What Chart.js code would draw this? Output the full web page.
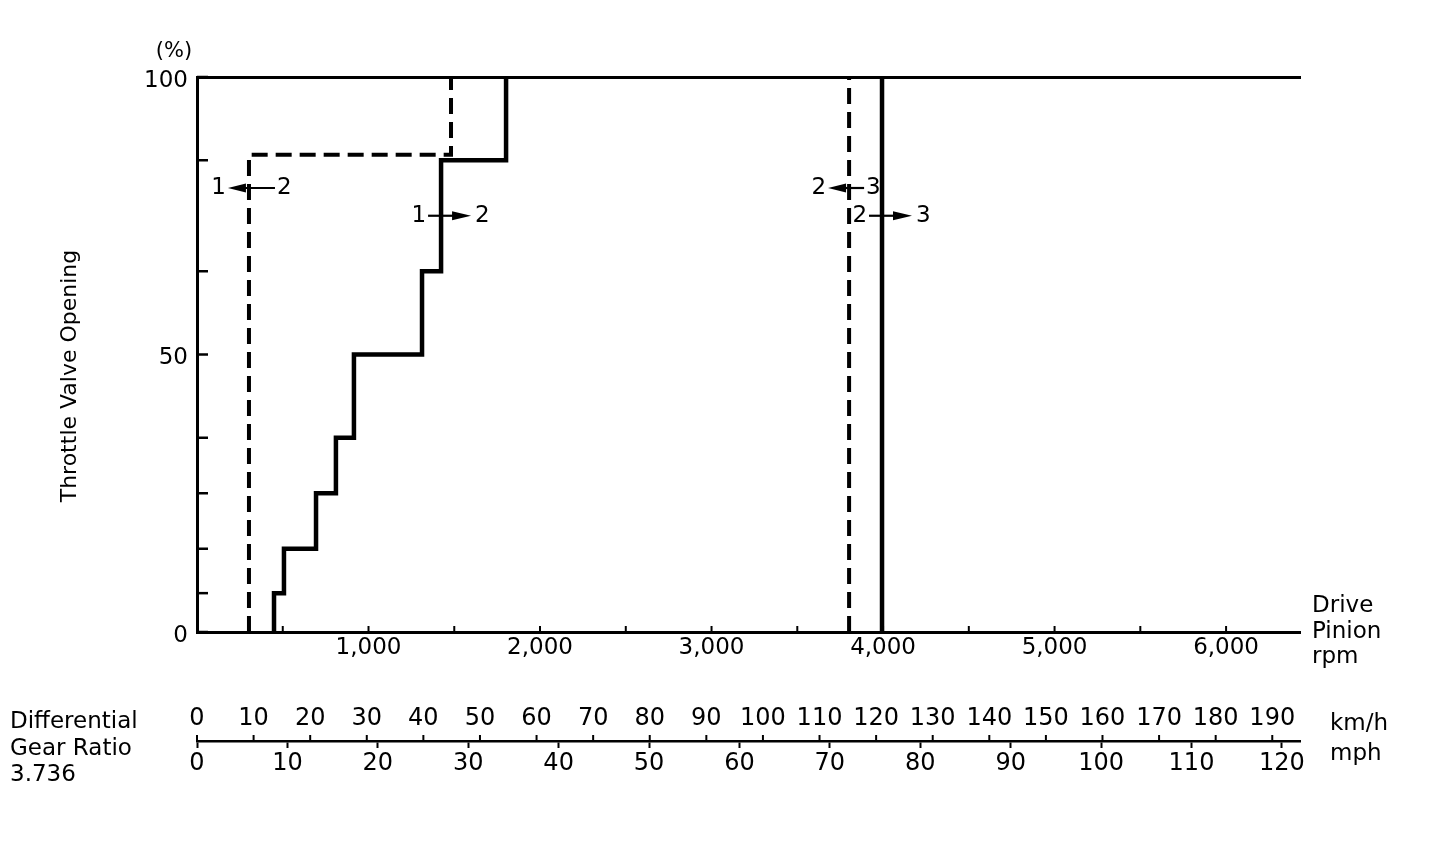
<!DOCTYPE html>
<html>
<head>
<meta charset="utf-8">
<title>Shift pattern</title>
<script src="https://cdn.jsdelivr.net/npm/chart.js@4.4.1/dist/chart.umd.min.js"></script>
<style>
  html, body { margin: 0; padding: 0; background: #fff; }
  #shift-canvas { display: block; }
</style>
</head>
<body>
<canvas id="shift-canvas" width="1440" height="852"></canvas>
<script>
// corners of each shift line: drive pinion rpm / throttle valve opening (%)
const upshift12Rpm = [449, 449, 507, 507, 694, 694, 810, 810, 915, 915, 1312, 1312, 1423, 1423, 1802, 1802];
const upshift12Pct = [0, 7, 7, 15, 15, 25, 25, 35, 35, 50, 50, 65, 65, 85, 85, 100];
const downshift21Rpm = [303, 303, 1481, 1481];
const downshift21Pct = [0, 86, 86, 100];
const downshift32Rpm = [3802, 3802];
const downshift32Pct = [0, 100];
const upshift23Rpm = [3994, 3994];
const upshift23Pct = [0, 100];

// axes
const throttleTicks = [0, 7, 15, 25, 35, 50, 65, 85, 100];
const throttleLabels = [0, 50, 100];
const rpmTicks = [500, 1000, 1500, 2000, 2500, 3000, 3500, 4000, 4500, 5000, 5500, 6000];
const rpmLabels = [1000, 2000, 3000, 4000, 5000, 6000];
const kmhTicks = [0, 10, 20, 30, 40, 50, 60, 70, 80, 90, 100, 110, 120, 130, 140, 150, 160, 170, 180, 190];
const mphTicks = [0, 10, 20, 30, 40, 50, 60, 70, 80, 90, 100, 110, 120];
const rpmMax = 6431;
const kmhMax = 194.9;
const mphMax = 122;

const shiftLabels = [
  { from: "1", to: "2", rpm: 303, pct: 80, dir: "left" },
  { from: "1", to: "2", rpm: 1423, pct: 75, dir: "right" },
  { from: "2", to: "3", rpm: 3802, pct: 80, dir: "left" },
  { from: "2", to: "3", rpm: 3994, pct: 75, dir: "right" },
];
// room on the right of a left arrow before the next line gets in the way
const leftArrowTail = [26, 0, 15, 0];

const FONT = '"DejaVu Sans", sans-serif';
const BLACK = "#000";

function toPoints(xs, ys) {
  return xs.map((x, i) => ({ x, y: ys[i] }));
}

function formatRpm(value) {
  return String(Math.round(Number(value))).replace(/\B(?=(\d{3})+(?!\d))/g, ",");
}

// chart.js re-spaces stepSize ticks when min/max are fixed, so set them by hand
function fixedTicks(values) {
  return (scale) => {
    scale.ticks = values.map((value) => ({ value }));
  };
}

function drawText(ctx, str, x, y, size, align = "left") {
  ctx.font = `${size}px ${FONT}`;
  ctx.textAlign = align;
  ctx.textBaseline = "middle";
  ctx.fillText(str, x, y);
}

function drawLine(ctx, x1, y1, x2, y2) {
  ctx.beginPath();
  ctx.moveTo(x1, y1);
  ctx.lineTo(x2, y2);
  ctx.stroke();
}

function drawArrow(ctx, item, tail, xScale, yScale) {
  const cx = xScale.getPixelForValue(item.rpm);
  const cy = yScale.getPixelForValue(item.pct);
  ctx.lineWidth = 2.2;
  if (item.dir === "left") {
    drawText(ctx, item.from, cx - 23, cy, 23, "right");
    drawText(ctx, item.to, cx + tail + 2, cy, 23, "left");
    drawLine(ctx, cx - 6, cy, cx + tail, cy);
    ctx.beginPath();
    ctx.moveTo(cx - 21, cy);
    ctx.lineTo(cx - 3, cy - 4.5);
    ctx.lineTo(cx - 3, cy + 4.5);
  } else {
    drawText(ctx, item.from, cx - 15, cy, 23, "right");
    drawText(ctx, item.to, cx + 34, cy, 23, "left");
    drawLine(ctx, cx - 13, cy, cx + 14, cy);
    ctx.beginPath();
    ctx.moveTo(cx + 30, cy);
    ctx.lineTo(cx + 11, cy - 4.5);
    ctx.lineTo(cx + 11, cy + 4.5);
  }
  ctx.closePath();
  ctx.fill();
}

const annotationsPlugin = {
  id: "shiftAnnotations",
  afterDraw(chart) {
    const { ctx, scales, chartArea } = chart;
    ctx.save();
    ctx.fillStyle = BLACK;
    ctx.strokeStyle = BLACK;

    // tick marks pointing into the plot
    ctx.lineWidth = 2.5;
    scales.y.ticks.forEach((tick) => {
      const py = scales.y.getPixelForValue(tick.value);
      drawLine(ctx, chartArea.left, py, chartArea.left + 11, py);
    });
    ctx.lineWidth = 2;
    scales.x.ticks.forEach((tick) => {
      const px = scales.x.getPixelForValue(tick.value);
      drawLine(ctx, px, chartArea.bottom, px, chartArea.bottom - 6);
    });

    // km/h ticks stand up from the mph line
    scales.kmh.ticks.forEach((tick) => {
      const px = scales.kmh.getPixelForValue(tick.value);
      drawLine(ctx, px, scales.mph.top, px, scales.mph.top - 6);
    });

    shiftLabels.forEach((item, i) => drawArrow(ctx, item, leftArrowTail[i], scales.x, scales.y));

    drawText(ctx, "(%)", 174, 52, 21, "center");
    ctx.save();
    ctx.translate(70, 376);
    ctx.rotate(-Math.PI / 2);
    drawText(ctx, "Throttle Valve Opening", 0, 0, 22, "center");
    ctx.restore();

    drawText(ctx, "Drive", 1312, 606, 23);
    drawText(ctx, "Pinion", 1312, 632, 23);
    drawText(ctx, "rpm", 1312, 657, 23);

    drawText(ctx, "Differential", 10, 722, 23);
    drawText(ctx, "Gear Ratio", 10, 749, 23);
    drawText(ctx, "3.736", 10, 775, 23);

    drawText(ctx, "km/h", 1330, 724, 23);
    drawText(ctx, "mph", 1330, 754, 23);
    ctx.restore();
  },
};

const solidLine = { borderColor: BLACK, borderWidth: 4.5, pointRadius: 0, showLine: true, fill: false, borderJoinStyle: "miter" };
const dashedLine = { ...solidLine, borderWidth: 4, borderDash: [16, 8] };
const noGrid = { display: false, drawTicks: false };

new Chart(document.querySelector("#shift-canvas"), {
  type: "scatter",
  data: {
    datasets: [
      { ...solidLine, label: "1-2 up", data: toPoints(upshift12Rpm, upshift12Pct) },
      { ...dashedLine, label: "2-1 down", data: toPoints(downshift21Rpm, downshift21Pct) },
      { ...dashedLine, label: "3-2 down", data: toPoints(downshift32Rpm, downshift32Pct) },
      { ...solidLine, label: "2-3 up", data: toPoints(upshift23Rpm, upshift23Pct) },
    ],
  },
  options: {
    responsive: false,
    devicePixelRatio: 1,
    animation: false,
    layout: { padding: { left: 0, right: 140, top: 77, bottom: 62 } },
    plugins: { legend: { display: false }, tooltip: { enabled: false } },
    scales: {
      x: {
        type: "linear",
        position: "bottom",
        weight: 0,
        min: 0,
        max: rpmMax,
        afterFit: (scale) => { scale.height = 68; },
        afterBuildTicks: fixedTicks(rpmTicks),
        ticks: {
          autoSkip: false,
          maxRotation: 0,
          padding: 2,
          color: BLACK,
          font: { family: FONT, size: 23 },
          callback: (value) => (rpmLabels.includes(value) ? formatRpm(value) : ""),
        },
        grid: noGrid,
        border: { color: BLACK, width: 3 },
      },
      xTop: {
        type: "linear",
        position: "top",
        min: 0,
        max: 1,
        afterFit: (scale) => { scale.height = 0; },
        ticks: { display: false },
        grid: noGrid,
        border: { color: BLACK, width: 3 },
      },
      kmh: {
        type: "linear",
        position: "bottom",
        weight: 1,
        min: 0,
        max: kmhMax,
        afterFit: (scale) => { scale.height = 41; },
        afterBuildTicks: fixedTicks(kmhTicks),
        ticks: {
          autoSkip: false,
          maxRotation: 0,
          padding: 4,
          color: BLACK,
          font: { family: FONT, size: 24 },
          callback: (value) => String(value),
        },
        grid: noGrid,
        border: { display: false },
      },
      mph: {
        type: "linear",
        position: "bottom",
        weight: 2,
        min: 0,
        max: mphMax,
        afterFit: (scale) => { scale.height = 49; },
        afterBuildTicks: fixedTicks(mphTicks),
        ticks: {
          autoSkip: false,
          maxRotation: 0,
          padding: 1,
          color: BLACK,
          font: { family: FONT, size: 24 },
          callback: (value) => String(value),
        },
        grid: { drawOnChartArea: false, tickLength: 7, tickWidth: 2, tickColor: BLACK },
        border: { color: BLACK, width: 2.5 },
      },
      y: {
        type: "linear",
        position: "left",
        min: 0,
        max: 100,
        afterFit: (scale) => { scale.width = 197; },
        afterBuildTicks: fixedTicks(throttleTicks),
        ticks: {
          autoSkip: false,
          padding: 9,
          labelOffset: 4,
          color: BLACK,
          font: { family: FONT, size: 23 },
          callback: (value) => (throttleLabels.includes(value) ? String(value) : ""),
        },
        grid: noGrid,
        border: { color: BLACK, width: 3 },
      },
    },
  },
  plugins: [annotationsPlugin],
});
</script>
</body>
</html>
